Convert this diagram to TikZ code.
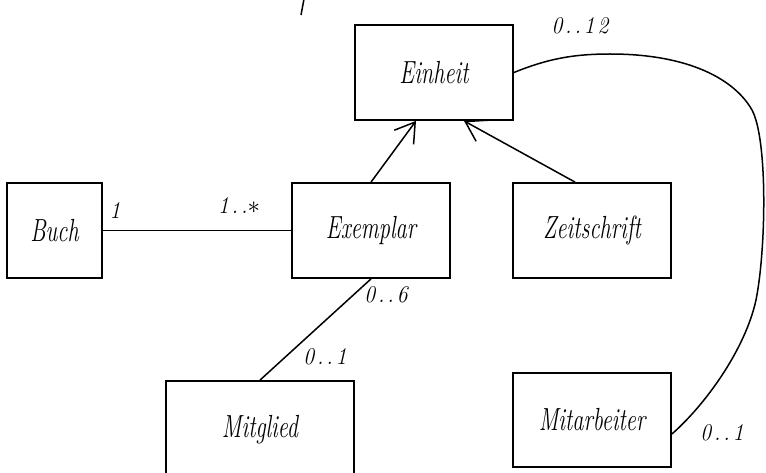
\documentclass[tikz,border=0pt]{standalone}
\usepackage{fontspec}
\usetikzlibrary{arrows.meta}
% narrow, tall lettering for class names and multiplicities
\newfontfamily\handfont[FakeStretch=0.7]{Latin Modern Roman}
\newfontfamily\multfamily[FakeStretch=0.9, LetterSpace=12]{Latin Modern Roman}
\newcommand\classfont{\handfont\fontsize{32pt}{36pt}\selectfont\itshape}
\newcommand\multfont{\multfamily\fontsize{24pt}{28pt}\selectfont\itshape}
\begin{document}
\begin{tikzpicture}[x=1pt,y=-1pt,
  box/.style={draw, line width=1.8pt, inner sep=0pt, minimum width=158pt,
    minimum height=95pt, font=\classfont},
  link/.style={line width=1.5pt},
  inherit/.style={link, -{Straight Barb[length=19pt,width=24pt,line width=1.5pt]}},
  mult/.style={font=\multfont, inner sep=0pt}]
\useasboundingbox (0,0) rectangle (766,473);
\clip (0,0) rectangle (766,473);

% classes
\node[box] (einheit) at (434,72.5) {Einheit};
\node[box, minimum width=95pt] (buch) at (54.5,230.5) {Buch};
\node[box] (exemplar) at (371,230.5) {Exemplar};
\node[box] (zeitschrift) at (592,230.5) {Zeitschrift};
\node[box, minimum width=188pt, minimum height=98pt] (mitglied) at (260,430) {Mitglied};
\node[box, minimum height=94pt] (mitarbeiter) at (592,420) {Mitarbeiter};

% associations and generalisations
\draw[link] (buch.east) -- (exemplar.west);
\draw[inherit] (exemplar.north) -- ([xshift=-18pt]einheit.south);
\draw[inherit] ([xshift=-17pt]zeitschrift.north) -- ([xshift=30pt]einheit.south);
\draw[link] (exemplar.south) -- (mitglied.north);
\draw[link] (einheit.east) .. controls (545,60) and (570,54) .. (610,54)
  .. controls (690,54) and (735,80) .. (752,110)
  .. controls (768,140) and (766,250) .. (756,300)
  .. controls (745,350) and (705,405) .. ([yshift=-14pt]mitarbeiter.east);

% multiplicities
\node[mult] (m12) at (580,26) {0..12};
\node[mult] (mbuch) at (115,211) {1};
\node[mult] (mex) at (239,206) {1..$\ast$};
\node[mult] (m06) at (386,295) {0..6};
\node[mult] (mmg) at (325,357) {0..1};
\node[mult] (mma) at (722,433) {0..1};

% pen stroke at the top edge
\draw[link] (301,15) -- (304,-1);
\end{tikzpicture}
\end{document}
